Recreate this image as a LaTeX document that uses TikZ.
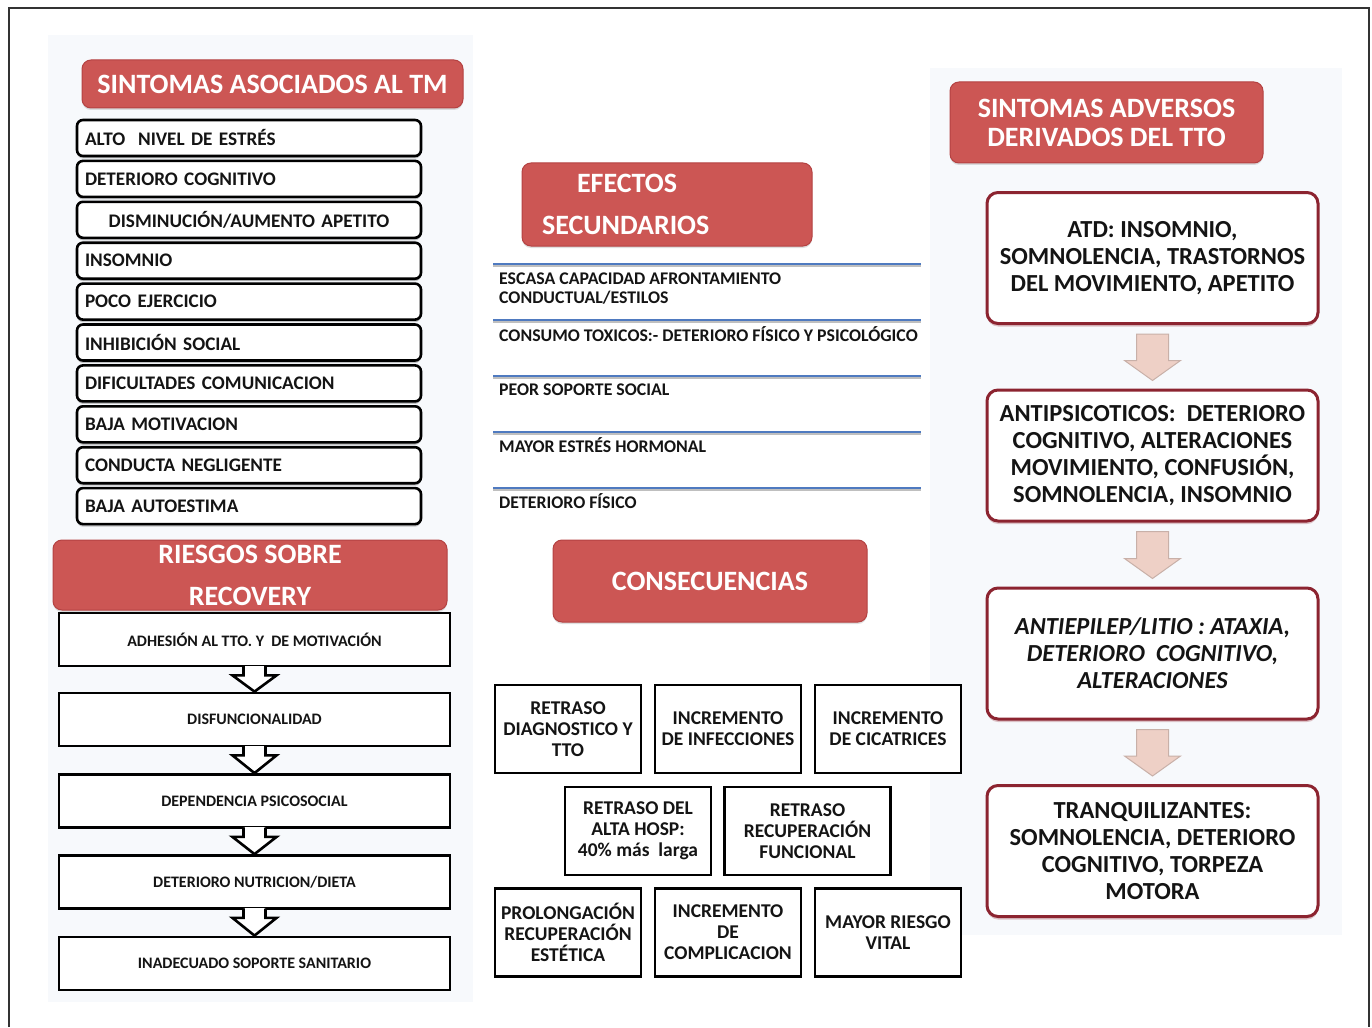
\documentclass[tikz,border=0pt]{standalone}
\usepackage{fontspec}
\setmainfont{Carlito}
\usetikzlibrary{shadows,calc}
\definecolor{hdr}{RGB}{204,86,84}
\definecolor{hdrb}{RGB}{180,66,66}
\definecolor{bl}{RGB}{79,122,192}
\definecolor{rb}{RGB}{140,36,48}
\definecolor{arf}{RGB}{238,208,198}
\definecolor{ard}{RGB}{200,176,168}
\definecolor{txt}{RGB}{20,20,20}
\definecolor{tint}{RGB}{247,249,252}
\begin{document}
\begin{tikzpicture}[x=1pt,y=-1pt,
  hdrbox/.style={fill=hdr, draw=hdrb, line width=1pt, rounded corners=9pt, text=white,
    font=\fontsize{28}{42}\selectfont\bfseries, align=center, inner sep=0pt,
    drop shadow={shadow xshift=0pt, shadow yshift=-2pt, opacity=.25}},
  listbox/.style={draw=black, line width=2.6pt, rounded corners=6pt, fill=white,
    minimum width=344pt, minimum height=36pt, text width=328pt, align=left, inner sep=0pt,
    font=\fontsize{19.2}{20}\selectfont\bfseries, text=txt,
    drop shadow={shadow xshift=0pt, shadow yshift=-2.5pt, opacity=.45}},
  flowbox/.style={draw=black, line width=2.8pt, fill=white, minimum width=391pt,
    minimum height=53pt, inner sep=0pt, font=\fontsize{16}{18}\selectfont\bfseries, text=txt},
  flowarr/.style={draw=black, line width=2.6pt, fill=white, line join=miter},
  consbox/.style={draw=black, line width=2.8pt, fill=white, inner sep=0pt, align=center,
    minimum height=88pt, font=\fontsize{19.5}{21}\selectfont\bfseries, text=txt},
  efftxt/.style={anchor=west, inner sep=0pt, align=left,
    font=\fontsize{17.8}{19}\selectfont\bfseries, text=txt},
  effline/.style={draw=bl, line width=2.2pt},
  rbox/.style={draw=rb, line width=3pt, rounded corners=11pt, fill=white,
    minimum width=331pt, minimum height=131pt, align=center, inner sep=0pt,
    font=\fontsize{24.5}{27}\selectfont\bfseries, text=txt,
    drop shadow={fill=rb!45, shadow xshift=0pt, shadow yshift=-3pt, opacity=.6}},
  rarr/.style={fill=arf, draw=ard, line width=1pt}
]
\useasboundingbox (0,0) rectangle (1372,1027);
% faint background areas and frame
\fill[tint] (48,35) rectangle (473,1002);
\fill[tint] (930,68) rectangle (1342,935);
\draw[black!80, line width=1.3pt] (9,1027) -- (9,8) -- (1369,8) -- (1369,1027);

% ---------- left column ----------
\node[listbox] (l1) at (249,138.0) {ALTO\ \ NIVEL DE ESTRÉS};
\node[listbox] (l2) at (249,178.9) {DETERIORO COGNITIVO};
\node[listbox, align=center] (l3) at (249,219.8) {DISMINUCIÓN/AUMENTO APETITO};
\node[listbox] (l4) at (249,260.7) {INSOMNIO};
\node[listbox] (l5) at (249,301.6) {POCO EJERCICIO};
\node[listbox] (l6) at (249,342.5) {INHIBICIÓN SOCIAL};
\node[listbox] (l7) at (249,383.4) {DIFICULTADES COMUNICACION};
\node[listbox] (l8) at (249,424.3) {BAJA MOTIVACION};
\node[listbox] (l9) at (249,465.2) {CONDUCTA NEGLIGENTE};
\node[listbox] (l10) at (249,506.1) {BAJA AUTOESTIMA};
\node[hdrbox, minimum width=381pt, minimum height=48pt] (h1) at (272.5,84) {SINTOMAS ASOCIADOS AL TM};

\node[flowbox] (f1) at (254.5,639.5) {ADHESIÓN AL TTO. Y\ \ DE MOTIVACIÓN};
\node[flowbox] (f2) at (254.5,719.5) {DISFUNCIONALIDAD};
\node[flowbox] (f3) at (254.5,801) {DEPENDENCIA PSICOSOCIAL};
\node[flowbox] (f4) at (254.5,882) {DETERIORO NUTRICION/DIETA};
\node[flowbox] (f5) at (254.5,963.5) {INADECUADO SOPORTE SANITARIO};
\node[hdrbox, minimum width=394pt, minimum height=70pt] (h2) at (250,575) {RIESGOS SOBRE\\RECOVERY};
\foreach \a/\b in {f1/f2,f2/f3,f3/f4,f4/f5}{
  \fill[white] ($(\a.south)+(-10,-1.6)$) rectangle ($(\a.south)+(10,2)$);
  \draw[flowarr] ($(\a.south)+(-11,-1.4)$) -- ($(\a.south)+(-11,8)$) -- ($(\a.south)+(-22,8)$)
    -- (\b.north) -- ($(\a.south)+(22,8)$) -- ($(\a.south)+(11,8)$) -- ($(\a.south)+(11,-1.4)$);
}

% ---------- centre column ----------
\node[hdrbox, minimum width=290pt, minimum height=83pt, text width=250pt, align=left] (h3) at (667,204.5)
  {\hspace*{35pt}EFECTOS\\SECUNDARIOS};
\foreach \yy in {264,320,376,432,488}{
  \draw[black!25, line width=2pt] (493,\yy+1.8) -- (921,\yy+1.8);
  \draw[effline] (493,\yy) -- (921,\yy);
}
\node[efftxt] (e1) at (499,288.5) {ESCASA CAPACIDAD AFRONTAMIENTO\\CONDUCTUAL/ESTILOS};
\node[efftxt] (e2) at (499,334) {CONSUMO TOXICOS:- DETERIORO FÍSICO Y PSICOLÓGICO};
\node[efftxt] (e3) at (499,390) {PEOR SOPORTE SOCIAL};
\node[efftxt] (e4) at (499,445) {MAYOR ESTRÉS HORMONAL};
\node[efftxt] (e5) at (499,501) {DETERIORO FÍSICO};

\node[hdrbox, minimum width=314pt, minimum height=82pt] (h4) at (710,581) {CONSECUENCIAS};
\node[consbox, minimum width=146pt] (c1) at (568,729) {RETRASO\\DIAGNOSTICO Y\\TTO};
\node[consbox, minimum width=146pt] (c2) at (728,729) {INCREMENTO\\DE INFECCIONES};
\node[consbox, minimum width=146pt] (c3) at (888,729) {INCREMENTO\\DE CICATRICES};
\node[consbox, minimum width=146pt] (c4) at (638,831) {RETRASO DEL\\ALTA HOSP:\\40\% más\ \ larga};
\node[consbox, minimum width=166pt] (c5) at (807.5,831) {RETRASO\\RECUPERACIÓN\\FUNCIONAL};
\node[consbox, minimum width=146pt] (c6) at (568,932.5) {PROLONGACIÓN\\RECUPERACIÓN\\ESTÉTICA};
\node[consbox, minimum width=146pt] (c7) at (728,932.5) {INCREMENTO\\DE\\COMPLICACION};
\node[consbox, minimum width=146pt] (c8) at (888,932.5) {MAYOR RIESGO\\VITAL};

% ---------- right column ----------
\node[hdrbox, minimum width=313pt, minimum height=81pt, font=\fontsize{28}{29}\selectfont\bfseries] (h5) at (1106.5,122.5)
  {SINTOMAS ADVERSOS\\DERIVADOS DEL TTO};
\node[rbox] (r1) at (1152.5,258) {ATD: INSOMNIO,\\SOMNOLENCIA, TRASTORNOS\\DEL MOVIMIENTO, APETITO};
\node[rbox] (r2) at (1152.5,455.5) {ANTIPSICOTICOS:\ \ DETERIORO\\COGNITIVO, ALTERACIONES\\MOVIMIENTO, CONFUSIÓN,\\SOMNOLENCIA, INSOMNIO};
\node[rbox, font=\fontsize{24.5}{27}\selectfont\bfseries\itshape] (r3) at (1152.5,653.5) {ANTIEPILEP/LITIO : ATAXIA,\\DETERIORO\ \ COGNITIVO,\\ALTERACIONES};
\node[rbox] (r4) at (1152.5,851) {TRANQUILIZANTES:\\SOMNOLENCIA, DETERIORO\\COGNITIVO, TORPEZA\\MOTORA};
\foreach \a/\b in {r1/r2,r2/r3,r3/r4}{
  \draw[rarr] ($(\a.south)+(-16,9)$) -- ($(\b.north)+(-16,-28)$) -- ($(\b.north)+(-28,-28)$)
    -- ($(\b.north)+(0,-8)$) -- ($(\b.north)+(28,-28)$) -- ($(\b.north)+(16,-28)$)
    -- ($(\a.south)+(16,9)$) -- cycle;
}
\end{tikzpicture}
\end{document}
